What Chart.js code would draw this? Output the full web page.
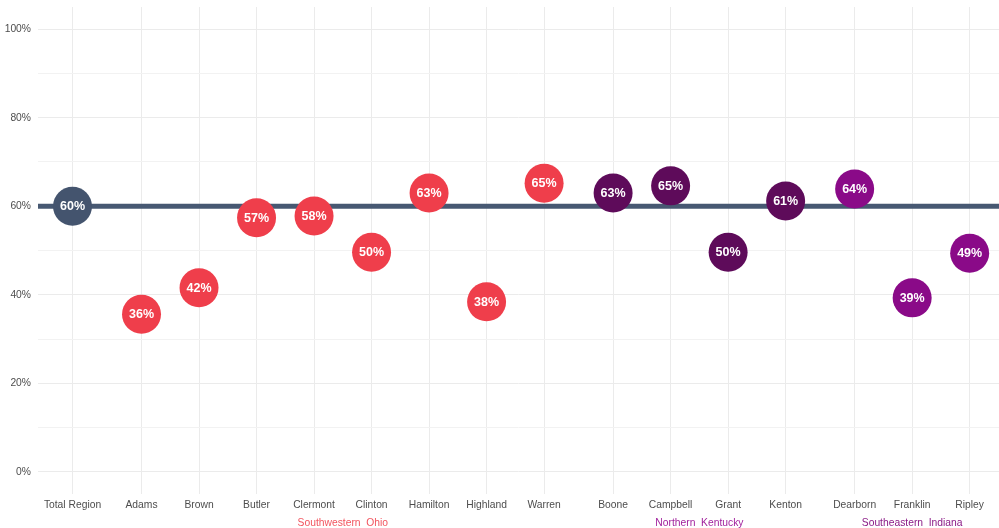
<!DOCTYPE html>
<html>
<head>
<meta charset="utf-8">
<script src="https://cdn.jsdelivr.net/npm/chart.js@4"></script>
<style>
  html, body { margin: 0; padding: 0; background: #ffffff; }
  #wrap { width: 999px; height: 528px; }
</style>
</head>
<body>
<div id="wrap"><canvas id="attainment"></canvas></div>
<script>
const CATEGORIES = ["Total Region", "Adams", "Brown", "Butler", "Clermont", "Clinton", "Hamilton", "Highland", "Warren",
    "Boone", "Campbell", "Grant", "Kenton", "Dearborn", "Franklin", "Ripley"];
// which region each county belongs to (index into GROUP_NAMES)
const GROUP_OF = [0, 1, 1, 1, 1, 1, 1, 1, 1, 2, 2, 2, 2, 3, 3, 3];
const GROUP_NAMES = ["", "Southwestern  Ohio", "Northern  Kentucky", "Southeastern  Indiana"];
const VALUES = [60.0, 35.6, 41.6, 57.4, 57.8, 49.6, 63.0, 38.4, 65.2, 63.0, 64.6, 49.6, 61.2, 63.9, 39.3, 49.4];
const Y_TICKS = [0, 10, 20, 30, 40, 50, 60, 70, 80, 90, 100];

const GROUP_COLORS = ["#44546e", "#ef3e4b", "#5e0b5a", "#8a0a88"];
const GROUP_TEXT_COLORS = ["#44546e", "#f2545e", "#a01f9c", "#8a1a86"];
const GAP = 0.2;
const X_MIN = -0.6, X_MAX = 16.11;

// x position of each category: one unit apart, plus a small gap between regions
let xPos = CATEGORIES.map((c, i) => i + GAP * GROUP_OF[i]);

let points = VALUES.map((v, i) => ({ x: xPos[i], y: v }));

/**
 * draws the percentage inside every circle
 */
const circleLabels = {
    id: "circleLabels",
    afterDatasetsDraw(chart) {
        let ctx = chart.ctx;
        let meta = chart.getDatasetMeta(1);
        ctx.save();
        ctx.font = "bold 12.5px 'Liberation Sans', Arial, sans-serif";
        ctx.fillStyle = "#ffffff";
        ctx.textAlign = "center";
        ctx.textBaseline = "middle";
        meta.data.forEach((el, i) => {
            ctx.fillText(Math.round(VALUES[i]) + "%", el.x, el.y + 0.5);
        });
        ctx.restore();
    }
};

/**
 * region names under the county labels
 */
const groupLabels = {
    id: "groupLabels",
    afterDraw(chart) {
        let ctx = chart.ctx;
        let xs = chart.scales.x;
        ctx.save();
        ctx.font = "10.3px 'Liberation Sans', Arial, sans-serif";
        ctx.textAlign = "center";
        ctx.textBaseline = "middle";
        for (let g = 1; g < GROUP_NAMES.length; g++) {
            let members = xPos.filter((x, i) => GROUP_OF[i] === g);
            let mid = (members[0] + members[members.length - 1]) / 2;
            ctx.fillStyle = GROUP_TEXT_COLORS[g];
            ctx.fillText(GROUP_NAMES[g], xs.getPixelForValue(mid), 523);
        }
        ctx.restore();
    }
};

const axisFont = { family: "'Liberation Sans', Arial, sans-serif", size: 10.3 };

const config = {
    type: "scatter",
    data: {
        datasets: [
            {
                type: "line",
                label: "Total Region",
                data: [{ x: X_MIN, y: VALUES[0] }, { x: X_MAX, y: VALUES[0] }],
                borderColor: "#475872",
                borderWidth: 5,
                pointRadius: 0,
                order: 2
            },
            {
                label: "Counties",
                data: points,
                backgroundColor: GROUP_OF.map(g => GROUP_COLORS[g]),
                borderWidth: 0,
                pointRadius: 19.5,
                pointHoverRadius: 19.5,
                order: 1,
                clip: false
            }
        ]
    },
    options: {
        responsive: true,
        maintainAspectRatio: false,
        animation: false,
        layout: { autoPadding: false, padding: { top: 7, right: 0, left: 0, bottom: 0 } },
        plugins: {
            legend: { display: false },
            tooltip: { enabled: false }
        },
        scales: {
            x: {
                type: "linear",
                min: X_MIN,
                max: X_MAX,
                afterBuildTicks: (scale) => { scale.ticks = xPos.map(v => ({ value: v })); },
                afterFit: (scale) => {
                    scale.height = 34;
                    scale.paddingLeft = 0;
                    scale.paddingRight = 0;
                },
                border: { display: false },
                grid: { color: "#ebebeb", lineWidth: 1, drawTicks: false },
                ticks: {
                    autoSkip: false,
                    maxRotation: 0,
                    padding: 5,
                    color: "#4d4d4d",
                    font: axisFont,
                    callback: function (value) {
                        let idx = xPos.findIndex(x => Math.abs(x - value) < 1e-6);
                        return idx >= 0 ? CATEGORIES[idx] : "";
                    }
                }
            },
            y: {
                min: -5,
                max: 105,
                afterBuildTicks: (scale) => { scale.ticks = Y_TICKS.map(v => ({ value: v })); },
                afterFit: (scale) => {
                    scale.width = 38;
                    scale.paddingTop = 0;
                    scale.paddingBottom = 0;
                },
                border: { display: false },
                grid: {
                    drawTicks: false,
                    color: (ctx) => (ctx.tick && ctx.tick.value % 20 === 0) ? "#ebebeb" : "#f2f2f2"
                },
                ticks: {
                    padding: 7,
                    color: "#4d4d4d",
                    font: axisFont,
                    callback: (value) => value % 20 === 0 ? value + "%" : ""
                }
            }
        }
    },
    plugins: [circleLabels, groupLabels]
};

let ctx = document.getElementById("attainment").getContext("2d");
new Chart(ctx, config);
</script>
</body>
</html>
